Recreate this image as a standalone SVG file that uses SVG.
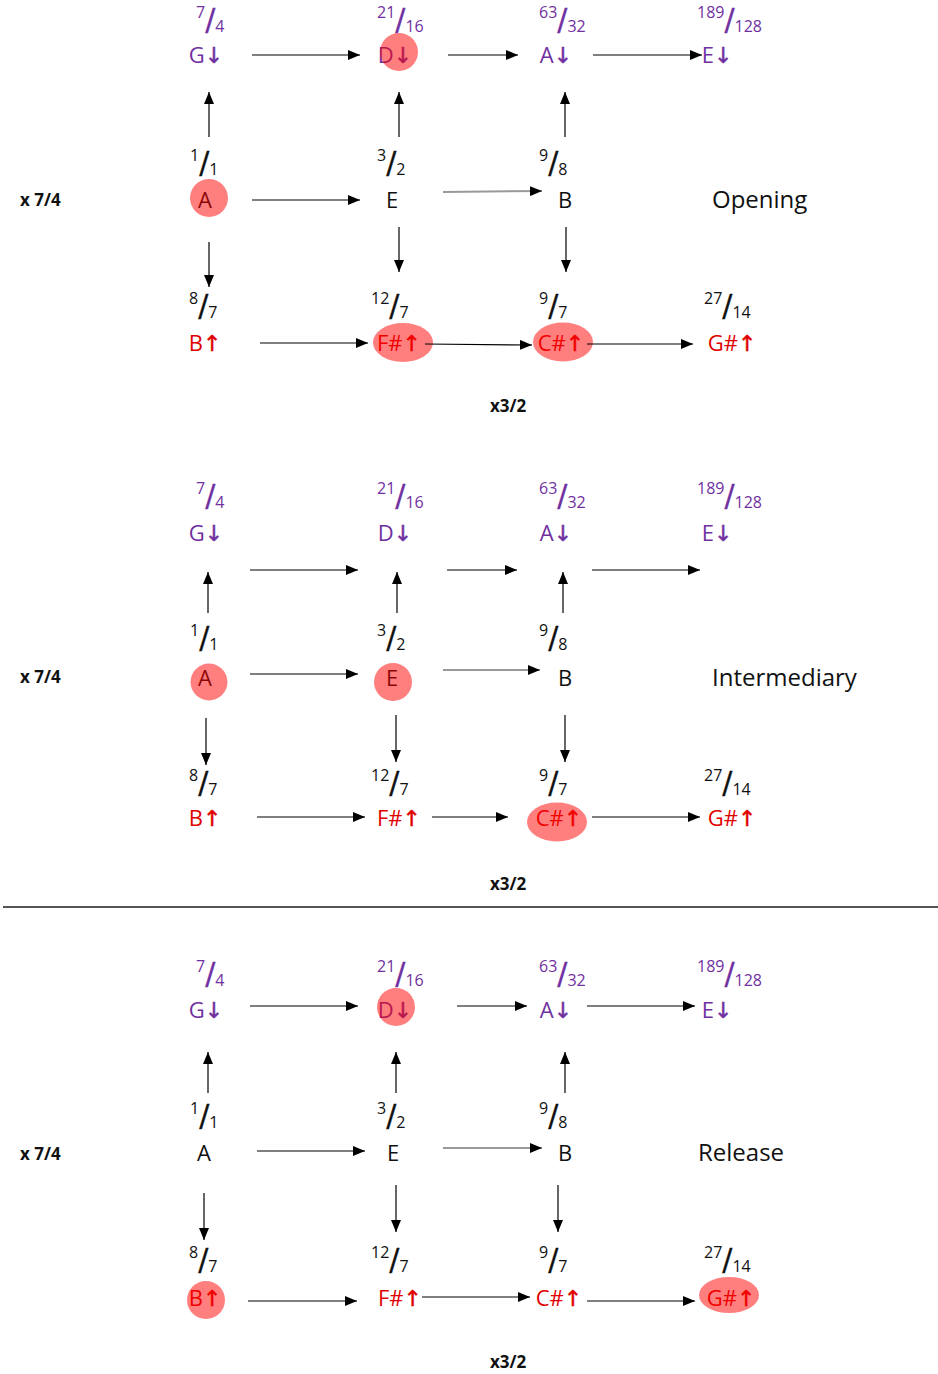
<svg xmlns="http://www.w3.org/2000/svg" width="938" height="1374" viewBox="0 0 938 1374">
<style>
.n{font-family:"Open Sans","DejaVu Sans",sans-serif;font-size:22px;text-anchor:middle}
.p{fill:#7030A0}.r{fill:#E00000}.k{fill:#111}
.p .ar{stroke:#7030A0;stroke-width:0.5}.r .ar{stroke:#E00000;stroke-width:0.5}
.f{font-family:"Open Sans",sans-serif;font-size:16px}
.sl{font-family:"DejaVu Sans",sans-serif;font-size:30px;stroke-width:0.3}
.p .sl{stroke:#7030A0}.k .sl{stroke:#111}
.hl{fill:#FF0000;fill-opacity:0.5}
.lbl{font-family:"Open Sans",sans-serif;font-size:24px;fill:#111}
.b{font-family:"Open Sans",sans-serif;font-weight:bold;font-size:17px;fill:#111}
.c{stroke:#000;stroke-width:1.2;fill:none;marker-end:url(#ah)}
.g{stroke:#999;stroke-width:2;fill:none;marker-end:url(#ah)}
</style>
<defs>
<marker id="ah" markerUnits="userSpaceOnUse" markerWidth="12" markerHeight="10" refX="12" refY="5" orient="auto"><path d="M0,0 L12,5 L0,10 z" fill="#000"/></marker>
</defs>
<rect width="938" height="1374" fill="#fff"/>

<!-- Section 1: Opening -->
<g id="s1-labels">
<text class="b" x="20" y="206">x 7/4</text>
<text class="lbl" x="712" y="208">Opening</text>
<text class="b" x="490" y="412">x3/2</text>
</g>
<g id="s1-G"><text class="f p" x="196" y="32"><tspan y="18">7</tspan><tspan class="sl" y="30">/</tspan><tspan y="32">4</tspan></text><text class="n p" x="206" y="63">G<tspan class="ar">↓</tspan></text></g>
<g id="s1-D"><text class="f p" x="377" y="32"><tspan y="18">21</tspan><tspan class="sl" y="30">/</tspan><tspan y="32">16</tspan></text><text class="n p" x="395" y="63">D<tspan class="ar">↓</tspan></text><circle class="hl" cx="399" cy="52" r="19"/></g>
<g id="s1-A2"><text class="f p" x="539" y="32"><tspan y="18">63</tspan><tspan class="sl" y="30">/</tspan><tspan y="32">32</tspan></text><text class="n p" x="556" y="63">A<tspan class="ar">↓</tspan></text></g>
<g id="s1-E2"><text class="f p" x="697" y="32"><tspan y="18">189</tspan><tspan class="sl" y="30">/</tspan><tspan y="32">128</tspan></text><text class="n p" x="717" y="63">E<tspan class="ar">↓</tspan></text></g>
<g id="s1-A"><text class="f k" x="190" y="175"><tspan y="161">1</tspan><tspan class="sl" y="173">/</tspan><tspan y="175">1</tspan></text><text class="n k" x="205" y="208">A</text><circle class="hl" cx="209" cy="198" r="19"/></g>
<g id="s1-E"><text class="f k" x="377" y="175"><tspan y="161">3</tspan><tspan class="sl" y="173">/</tspan><tspan y="175">2</tspan></text><text class="n k" x="392" y="208">E</text></g>
<g id="s1-B"><text class="f k" x="539" y="175"><tspan y="161">9</tspan><tspan class="sl" y="173">/</tspan><tspan y="175">8</tspan></text><text class="n k" x="565" y="208">B</text></g>
<g id="s1-B3"><text class="f k" x="189" y="318"><tspan y="304">8</tspan><tspan class="sl" y="316">/</tspan><tspan y="318">7</tspan></text><text class="n r" x="205" y="351">B<tspan class="ar">↑</tspan></text></g>
<g id="s1-F3"><text class="f k" x="371" y="318"><tspan y="304">12</tspan><tspan class="sl" y="316">/</tspan><tspan y="318">7</tspan></text><text class="n r" x="399" y="351">F#<tspan class="ar">↑</tspan></text><ellipse class="hl" cx="403" cy="342.5" rx="30" ry="19.5"/></g>
<g id="s1-C3"><text class="f k" x="539" y="318"><tspan y="304">9</tspan><tspan class="sl" y="316">/</tspan><tspan y="318">7</tspan></text><text class="n r" x="561" y="351">C#<tspan class="ar">↑</tspan></text><ellipse class="hl" cx="563" cy="342" rx="30" ry="19.5"/></g>
<g id="s1-G3"><text class="f k" x="704" y="318"><tspan y="304">27</tspan><tspan class="sl" y="316">/</tspan><tspan y="318">14</tspan></text><text class="n r" x="732" y="351">G#<tspan class="ar">↑</tspan></text></g>

<!-- Section 2: Intermediary -->
<g id="s2-labels">
<text class="b" x="20" y="683">x 7/4</text>
<text class="lbl" x="712" y="686">Intermediary</text>
<text class="b" x="490" y="890">x3/2</text>
</g>
<g id="s2-G"><text class="f p" x="196" y="508"><tspan y="494">7</tspan><tspan class="sl" y="506">/</tspan><tspan y="508">4</tspan></text><text class="n p" x="206" y="541">G<tspan class="ar">↓</tspan></text></g>
<g id="s2-D"><text class="f p" x="377" y="508"><tspan y="494">21</tspan><tspan class="sl" y="506">/</tspan><tspan y="508">16</tspan></text><text class="n p" x="395" y="541">D<tspan class="ar">↓</tspan></text></g>
<g id="s2-A2"><text class="f p" x="539" y="508"><tspan y="494">63</tspan><tspan class="sl" y="506">/</tspan><tspan y="508">32</tspan></text><text class="n p" x="556" y="541">A<tspan class="ar">↓</tspan></text></g>
<g id="s2-E2"><text class="f p" x="697" y="508"><tspan y="494">189</tspan><tspan class="sl" y="506">/</tspan><tspan y="508">128</tspan></text><text class="n p" x="717" y="541">E<tspan class="ar">↓</tspan></text></g>
<g id="s2-A"><text class="f k" x="190" y="650"><tspan y="636">1</tspan><tspan class="sl" y="648">/</tspan><tspan y="650">1</tspan></text><text class="n k" x="205" y="686">A</text><circle class="hl" cx="209" cy="682" r="18.5"/></g>
<g id="s2-E"><text class="f k" x="377" y="650"><tspan y="636">3</tspan><tspan class="sl" y="648">/</tspan><tspan y="650">2</tspan></text><text class="n k" x="392" y="686">E</text><circle class="hl" cx="393" cy="682" r="19"/></g>
<g id="s2-B"><text class="f k" x="539" y="650"><tspan y="636">9</tspan><tspan class="sl" y="648">/</tspan><tspan y="650">8</tspan></text><text class="n k" x="565" y="686">B</text></g>
<g id="s2-B3"><text class="f k" x="189" y="795"><tspan y="781">8</tspan><tspan class="sl" y="793">/</tspan><tspan y="795">7</tspan></text><text class="n r" x="205" y="826">B<tspan class="ar">↑</tspan></text></g>
<g id="s2-F3"><text class="f k" x="371" y="795"><tspan y="781">12</tspan><tspan class="sl" y="793">/</tspan><tspan y="795">7</tspan></text><text class="n r" x="399" y="826">F#<tspan class="ar">↑</tspan></text></g>
<g id="s2-C3"><text class="f k" x="539" y="795"><tspan y="781">9</tspan><tspan class="sl" y="793">/</tspan><tspan y="795">7</tspan></text><text class="n r" x="559" y="826">C#<tspan class="ar">↑</tspan></text><ellipse class="hl" cx="557" cy="822" rx="30" ry="19.5"/></g>
<g id="s2-G3"><text class="f k" x="704" y="795"><tspan y="781">27</tspan><tspan class="sl" y="793">/</tspan><tspan y="795">14</tspan></text><text class="n r" x="732" y="826">G#<tspan class="ar">↑</tspan></text></g>

<line id="divider" x1="3" y1="907" x2="938" y2="907" stroke="#555" stroke-width="2"/>

<!-- Section 3: Release -->
<g id="s3-labels">
<text class="b" x="20" y="1160">x 7/4</text>
<text class="lbl" x="698" y="1161">Release</text>
<text class="b" x="490" y="1368">x3/2</text>
</g>
<g id="s3-G"><text class="f p" x="196" y="986"><tspan y="972">7</tspan><tspan class="sl" y="984">/</tspan><tspan y="986">4</tspan></text><text class="n p" x="206" y="1018">G<tspan class="ar">↓</tspan></text></g>
<g id="s3-D"><text class="f p" x="377" y="986"><tspan y="972">21</tspan><tspan class="sl" y="984">/</tspan><tspan y="986">16</tspan></text><text class="n p" x="395" y="1018">D<tspan class="ar">↓</tspan></text><circle class="hl" cx="396" cy="1007" r="19"/></g>
<g id="s3-A2"><text class="f p" x="539" y="986"><tspan y="972">63</tspan><tspan class="sl" y="984">/</tspan><tspan y="986">32</tspan></text><text class="n p" x="556" y="1018">A<tspan class="ar">↓</tspan></text></g>
<g id="s3-E2"><text class="f p" x="697" y="986"><tspan y="972">189</tspan><tspan class="sl" y="984">/</tspan><tspan y="986">128</tspan></text><text class="n p" x="717" y="1018">E<tspan class="ar">↓</tspan></text></g>
<g id="s3-A"><text class="f k" x="190" y="1128"><tspan y="1114">1</tspan><tspan class="sl" y="1126">/</tspan><tspan y="1128">1</tspan></text><text class="n k" x="204" y="1161">A</text></g>
<g id="s3-E"><text class="f k" x="377" y="1128"><tspan y="1114">3</tspan><tspan class="sl" y="1126">/</tspan><tspan y="1128">2</tspan></text><text class="n k" x="393" y="1161">E</text></g>
<g id="s3-B"><text class="f k" x="539" y="1128"><tspan y="1114">9</tspan><tspan class="sl" y="1126">/</tspan><tspan y="1128">8</tspan></text><text class="n k" x="565" y="1161">B</text></g>
<g id="s3-B3"><text class="f k" x="189" y="1272"><tspan y="1258">8</tspan><tspan class="sl" y="1270">/</tspan><tspan y="1272">7</tspan></text><text class="n r" x="205" y="1306">B<tspan class="ar">↑</tspan></text><circle class="hl" cx="206" cy="1300" r="19"/></g>
<g id="s3-F3"><text class="f k" x="371" y="1272"><tspan y="1258">12</tspan><tspan class="sl" y="1270">/</tspan><tspan y="1272">7</tspan></text><text class="n r" x="400" y="1306">F#<tspan class="ar">↑</tspan></text></g>
<g id="s3-C3"><text class="f k" x="539" y="1272"><tspan y="1258">9</tspan><tspan class="sl" y="1270">/</tspan><tspan y="1272">7</tspan></text><text class="n r" x="559" y="1306">C#<tspan class="ar">↑</tspan></text></g>
<g id="s3-G3"><text class="f k" x="704" y="1272"><tspan y="1258">27</tspan><tspan class="sl" y="1270">/</tspan><tspan y="1272">14</tspan></text><text class="n r" x="731" y="1306">G#<tspan class="ar">↑</tspan></text><ellipse class="hl" cx="729" cy="1295" rx="30" ry="18"/></g>

<g id="connectors">
<!-- section 1 -->
<line class="c" x1="252" y1="55" x2="360" y2="55"/>
<line class="c" x1="448" y1="55" x2="518" y2="55"/>
<line class="c" x1="593" y1="55" x2="702" y2="55"/>
<line class="c" x1="209" y1="137" x2="209" y2="92"/>
<line class="c" x1="399" y1="137" x2="399" y2="92"/>
<line class="c" x1="565" y1="137" x2="565" y2="92"/>
<line class="c" x1="252" y1="200" x2="360" y2="200"/>
<line class="g" x1="443" y1="192" x2="542" y2="191"/>
<line class="c" x1="209" y1="242" x2="209" y2="287"/>
<line class="c" x1="399" y1="227" x2="399" y2="272"/>
<line class="c" x1="566" y1="227" x2="566" y2="272"/>
<line class="c" x1="260" y1="343" x2="368" y2="343"/>
<line class="c" x1="425" y1="344" x2="532" y2="345"/>
<line class="c" x1="587" y1="344" x2="693" y2="344"/>
<!-- section 2 -->
<line class="c" x1="250" y1="570" x2="358" y2="570"/>
<line class="c" x1="447" y1="570" x2="517" y2="570"/>
<line class="c" x1="592" y1="570" x2="700" y2="570"/>
<line class="c" x1="208" y1="613" x2="208" y2="572"/>
<line class="c" x1="397" y1="613" x2="397" y2="572"/>
<line class="c" x1="563" y1="613" x2="563" y2="572"/>
<line class="c" x1="250" y1="674" x2="358" y2="674"/>
<line class="g" x1="443" y1="670" x2="540" y2="670"/>
<line class="c" x1="206" y1="718" x2="206" y2="765"/>
<line class="c" x1="396" y1="715" x2="396" y2="762"/>
<line class="c" x1="565" y1="715" x2="565" y2="762"/>
<line class="c" x1="257" y1="817" x2="365" y2="817"/>
<line class="c" x1="432" y1="817" x2="508" y2="817"/>
<line class="c" x1="592" y1="817" x2="700" y2="817"/>
<!-- section 3 -->
<line class="c" x1="250" y1="1006" x2="358" y2="1006"/>
<line class="c" x1="457" y1="1006" x2="527" y2="1006"/>
<line class="c" x1="587" y1="1006" x2="695" y2="1006"/>
<line class="c" x1="208" y1="1093" x2="208" y2="1052"/>
<line class="c" x1="396" y1="1093" x2="396" y2="1052"/>
<line class="c" x1="565" y1="1093" x2="565" y2="1052"/>
<line class="c" x1="257" y1="1151" x2="365" y2="1151"/>
<line class="g" x1="443" y1="1148" x2="542" y2="1148"/>
<line class="c" x1="204" y1="1193" x2="204" y2="1240"/>
<line class="c" x1="396" y1="1185" x2="396" y2="1232"/>
<line class="c" x1="558" y1="1185" x2="558" y2="1232"/>
<line class="c" x1="248" y1="1301" x2="357" y2="1301"/>
<line class="c" x1="422" y1="1297" x2="530" y2="1297"/>
<line class="c" x1="587" y1="1301" x2="695" y2="1301"/>
</g>
</svg>
